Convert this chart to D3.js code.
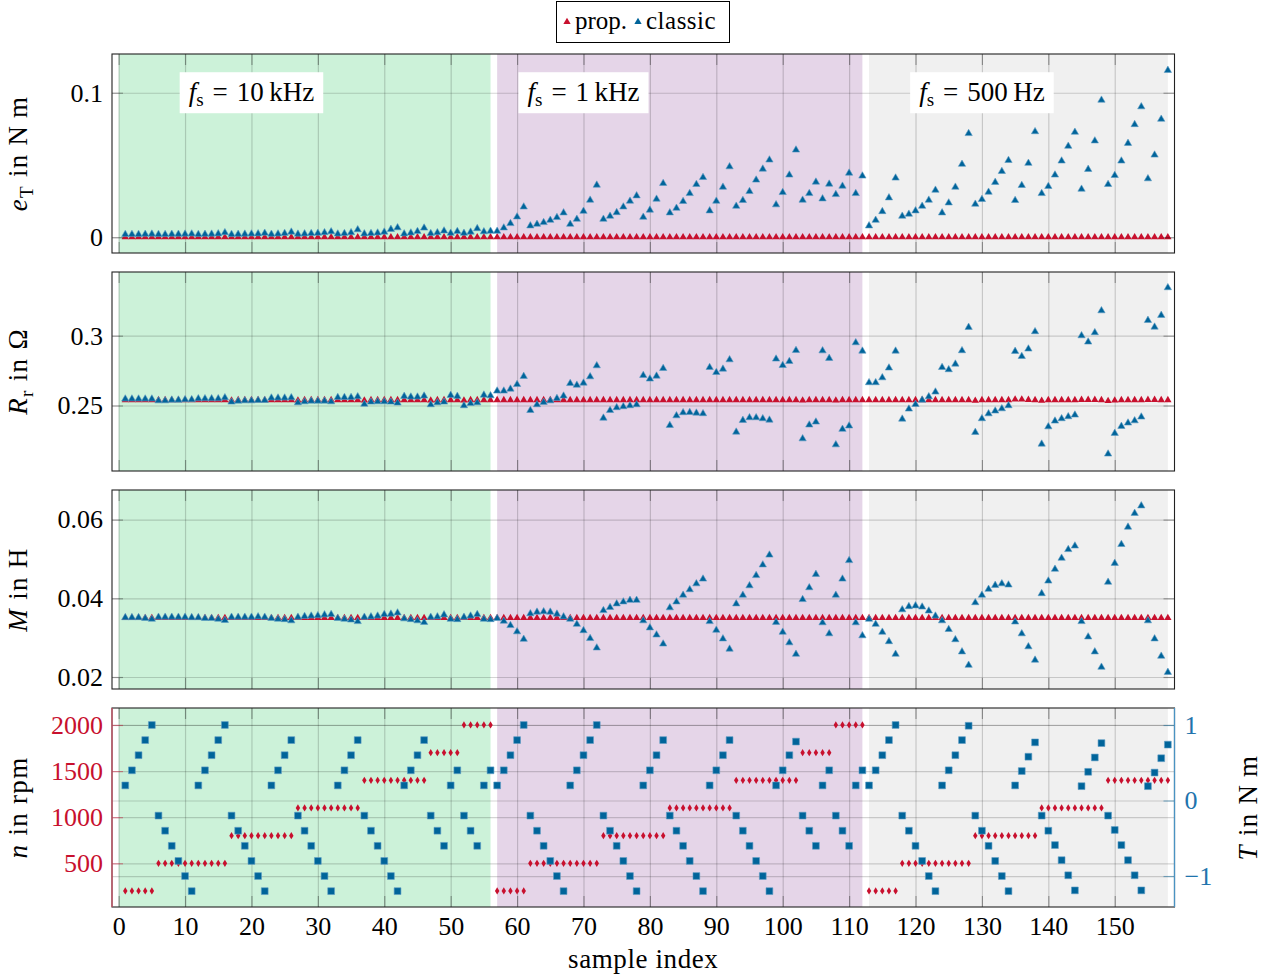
<!DOCTYPE html>
<html>
<head>
<meta charset="utf-8">
<script src="https://cdn.jsdelivr.net/npm/d3@7"></script>
<style>
body { margin: 0; background: #fff; }
text { font-family: "Liberation Serif", "Times New Roman", serif; }
</style>
</head>
<body>
<svg id="chart" width="1273" height="978"></svg>
<script>
// ---- data ----
var sampleIdx = d3.range(1, 159);           // sample index 1..158
var regionBounds = [[0, 56], [57, 112], [113, 158]];
var regionLabels = ["10\u2009kHz", "1\u2009kHz", "500\u2009Hz"];
var regionLabelAt = [20, 70, 130];
var xTicks = [0, 10, 20, 30, 40, 50, 60, 70, 80, 90, 100, 110, 120, 130, 140, 150];

// torque error e_T in N m
var eTProp = [
  0,0,0,0,0, 0,0,0,0,0,0,0,0,0,0,0, 0,0,0,0,0,0,0,0,0,0, 0,0,0,0,0,0,0,0,0,0,
  0,0,0,0,0,0,0,0,0,0, 0,0,0,0,0, 0,0,0,0,0,
  0,0,0,0,0, 0,0,0,0,0,0,0,0,0,0,0, 0,0,0,0,0,0,0,0,0,0, 0,0,0,0,0,0,0,0,0,0,
  0,0,0,0,0,0,0,0,0,0, 0,0,0,0,0, 0,0,0,0,0,
  0,0,0,0,0, 0,0,0,0,0,0,0,0,0,0,0, 0,0,0,0,0,0,0,0,0,0, 0,0,0,0,0,0,0,0,0,0,
  0,0,0,0,0,0,0,0,0,0
];
var eTClassic = [
  0.0020,0.0020,0.0020,0.0021,0.0022,
  0.0020,0.0020,0.0021,0.0021,0.0022,0.0023,0.0020,0.0021,0.0022,0.0024,0.0032,
  0.0020,0.0021,0.0022,0.0023,0.0024,0.0028,0.0021,0.0023,0.0027,0.0036,
  0.0022,0.0024,0.0026,0.0028,0.0032,0.0038,0.0023,0.0026,0.0032,0.0052,
  0.0024,0.0027,0.0030,0.0036,0.0055,0.0066,0.0024,0.0030,0.0040,0.0064,
  0.0026,0.0032,0.0044,0.0028,0.0040,
  0.0028,0.0036,0.0060,0.0038,0.0042,
  0.0042,0.0065,0.0095,0.0141,0.0210,
  0.0079,0.0090,0.0102,0.0118,0.0137,0.0169,0.0090,0.0125,0.0180,0.0257,0.0361,
  0.0125,0.0146,0.0171,0.0210,0.0250,0.0287,0.0139,0.0188,0.0264,0.0373,
  0.0169,0.0201,0.0248,0.0303,0.0366,0.0414,0.0183,0.0250,0.0347,0.0488,
  0.0215,0.0255,0.0317,0.0396,0.0472,0.0535,0.0225,0.0310,0.0431,0.0604,
  0.0257,0.0303,0.0382,0.0266,0.0368,
  0.0296,0.0354,0.0444,0.0303,0.0424,
  0.0079,0.0118,0.0178,0.0273,0.0410,
  0.0146,0.0160,0.0183,0.0215,0.0257,0.0326,0.0169,0.0238,0.0347,0.0505,0.0718,
  0.0229,0.0262,0.0312,0.0380,0.0456,0.0532,0.0255,0.0359,0.0512,0.0731,
  0.0303,0.0352,0.0431,0.0528,0.0630,0.0727,0.0333,0.0470,0.0667,0.0949,
  0.0366,0.0428,0.0528,0.0650,0.0780,0.0903,0.0405,0.0569,0.0817,0.1155
];

// rotor resistance R_r in Ohm
var rrProp = [
  0.2539,0.2539,0.2539,0.2539,0.2539, 0.2539,0.2539,0.2539,0.2539,0.2539,0.2539,0.2539,0.2539,0.2539,0.2539,0.2539,
  0.2537,0.2539,0.2539,0.2539,0.2539,0.2539,0.2539,0.2539,0.2539,0.2539,
  0.2537,0.2539,0.2539,0.2539,0.2539,0.2539,0.2539,0.2539,0.2539,0.2539,
  0.2537,0.2539,0.2539,0.2539,0.2539,0.2539,0.2539,0.2539,0.2539,0.2539,
  0.2537,0.2539,0.2539,0.2539,0.2539, 0.2537,0.2539,0.2539,0.2539,0.2539,
  0.2539,0.2539,0.2539,0.2539,0.2539, 0.2539,0.2539,0.2539,0.2539,0.2539,0.2539,0.2539,0.2539,0.2539,0.2539,0.2539,
  0.2539,0.2539,0.2539,0.2539,0.2539,0.2539,0.2539,0.2539,0.2539,0.2539,
  0.2539,0.2539,0.2539,0.2539,0.2539,0.2539,0.2539,0.2539,0.2539,0.2539,
  0.2539,0.2539,0.2539,0.2539,0.2539,0.2539,0.2539,0.2539,0.2539,0.2539,
  0.2537,0.2539,0.2539,0.2539,0.2539, 0.2537,0.2539,0.2539,0.2539,0.2539,
  0.2539,0.2539,0.2539,0.2539,0.2539, 0.2539,0.2539,0.2539,0.2539,0.2539,0.2539,0.2539,0.2539,0.2539,0.2539,0.2539,
  0.2535,0.2539,0.2539,0.2539,0.2539,0.2539,0.2543,0.2543,0.2541,0.2539,
  0.2535,0.2539,0.2539,0.2539,0.2539,0.2539,0.2541,0.2541,0.2541,0.2539,
  0.2533,0.2537,0.2539,0.2539,0.2539,0.2539,0.2541,0.2541,0.2539,0.2539
];
var rrClassic = [
  0.2547,0.2547,0.2547,0.2547,0.2547,
  0.2534,0.2534,0.2539,0.2539,0.2542,0.2542,0.2549,0.2549,0.2549,0.2549,0.2556,
  0.2525,0.2532,0.2534,0.2534,0.2537,0.2537,0.2554,0.2554,0.2554,0.2556,
  0.2520,0.2527,0.2532,0.2532,0.2532,0.2527,0.2558,0.2558,0.2558,0.2563,
  0.2510,0.2525,0.2527,0.2527,0.2525,0.2518,0.2566,0.2561,0.2561,0.2568,
  0.2506,0.2520,0.2525,0.2573,0.2566,
  0.2499,0.2515,0.2520,0.2575,0.2570,
  0.2604,0.2604,0.2618,0.2651,0.2709,
  0.2465,0.2506,0.2523,0.2534,0.2551,0.2568,0.2658,0.2646,0.2661,0.2706,0.2785,
  0.2410,0.2465,0.2485,0.2492,0.2499,0.2506,0.2716,0.2690,0.2711,0.2766,
  0.2358,0.2427,0.2449,0.2451,0.2446,0.2442,0.2773,0.2737,0.2761,0.2828,
  0.2310,0.2394,0.2413,0.2413,0.2406,0.2396,0.2833,0.2787,0.2816,0.2895,
  0.2262,0.2361,0.2382,0.2892,0.2838,
  0.2219,0.2330,0.2354,0.2950,0.2890,
  0.2664,0.2664,0.2699,0.2769,0.2890,
  0.2403,0.2475,0.2508,0.2539,0.2563,0.2597,0.2773,0.2757,0.2797,0.2893,0.3060,
  0.2308,0.2406,0.2441,0.2461,0.2477,0.2499,0.2888,0.2852,0.2905,0.3029,
  0.2224,0.2348,0.2389,0.2406,0.2420,0.2432,0.3000,0.2955,0.3022,0.3179,
  0.2153,0.2301,0.2351,0.2375,0.2391,0.2418,0.3110,0.3062,0.3146,0.3344
];

// mutual inductance M in H
var mProp = [
  0.0350,0.0350,0.0350,0.0350,0.0350, 0.0350,0.0350,0.0350,0.0350,0.0350,0.0350,0.0350,0.0350,0.0350,0.0350,0.0350,
  0.0350,0.0350,0.0350,0.0350,0.0350,0.0350,0.0350,0.0350,0.0350,0.0350,
  0.0350,0.0350,0.0350,0.0350,0.0350,0.0350,0.0350,0.0350,0.0350,0.0350,
  0.0350,0.0350,0.0350,0.0350,0.0350,0.0350,0.0350,0.0350,0.0350,0.0350,
  0.0350,0.0350,0.0350,0.0350,0.0350, 0.0350,0.0350,0.0350,0.0350,0.0350,
  0.0350,0.0350,0.0350,0.0350,0.0350, 0.0350,0.0350,0.0350,0.0350,0.0350,0.0350,0.0350,0.0350,0.0350,0.0350,0.0350,
  0.0350,0.0350,0.0350,0.0350,0.0350,0.0350,0.0350,0.0350,0.0350,0.0350,
  0.0350,0.0350,0.0350,0.0350,0.0350,0.0350,0.0350,0.0350,0.0350,0.0350,
  0.0350,0.0350,0.0350,0.0350,0.0350,0.0350,0.0350,0.0350,0.0350,0.0350,
  0.0350,0.0350,0.0350,0.0350,0.0350, 0.0350,0.0350,0.0350,0.0350,0.0350,
  0.0350,0.0350,0.0350,0.0350,0.0350, 0.0350,0.0350,0.0350,0.0350,0.0350,0.0350,0.0350,0.0350,0.0350,0.0350,0.0350,
  0.0350,0.0350,0.0350,0.0350,0.0350,0.0350,0.0350,0.0350,0.0350,0.0350,
  0.0350,0.0350,0.0350,0.0350,0.0350,0.0350,0.0350,0.0350,0.0350,0.0350,
  0.0350,0.0350,0.0350,0.0350,0.0350,0.0350,0.0350,0.0350,0.0350,0.0350
];
var mClassic = [
  0.0351,0.0351,0.0351,0.0349,0.0347,
  0.0352,0.0352,0.0352,0.0352,0.0352,0.0351,0.0351,0.0349,0.0349,0.0347,0.0344,
  0.0352,0.0352,0.0352,0.0352,0.0353,0.0352,0.0349,0.0347,0.0346,0.0343,
  0.0352,0.0354,0.0355,0.0356,0.0358,0.0359,0.0349,0.0347,0.0345,0.0341,
  0.0352,0.0353,0.0355,0.0359,0.0360,0.0363,0.0348,0.0346,0.0343,0.0339,
  0.0352,0.0353,0.0358,0.0347,0.0346,
  0.0352,0.0355,0.0359,0.0347,0.0346,
  0.0349,0.0342,0.0331,0.0315,0.0296,
  0.0361,0.0365,0.0366,0.0365,0.0360,0.0353,0.0347,0.0334,0.0318,0.0298,0.0274,
  0.0369,0.0377,0.0386,0.0391,0.0395,0.0395,0.0343,0.0325,0.0307,0.0284,
  0.0376,0.0391,0.0408,0.0422,0.0437,0.0449,0.0341,0.0319,0.0297,0.0271,
  0.0386,0.0408,0.0432,0.0458,0.0485,0.0510,0.0339,0.0314,0.0287,0.0258,
  0.0397,0.0427,0.0461,0.0338,0.0310,
  0.0408,0.0449,0.0496,0.0338,0.0305,
  0.0347,0.0334,0.0314,0.0290,0.0258,
  0.0371,0.0379,0.0381,0.0378,0.0368,0.0355,0.0343,0.0321,0.0295,0.0264,0.0230,
  0.0389,0.0408,0.0423,0.0433,0.0437,0.0434,0.0340,0.0310,0.0277,0.0243,
  0.0412,0.0444,0.0474,0.0502,0.0524,0.0533,0.0341,0.0302,0.0264,0.0225,
  0.0441,0.0489,0.0537,0.0581,0.0616,0.0635,0.0343,0.0297,0.0253,0.0212
];

// operating point: speed n in rpm, torque T in N m
var speed = [
  200,200,200,200,200,
  500,500,500,500,500,500,500,500,500,500,500,
  800,800,800,800,800,800,800,800,800,800,
  1100,1100,1100,1100,1100,1100,1100,1100,1100,1100,
  1400,1400,1400,1400,1400,1400,1400,1400,1400,1400,
  1700,1700,1700,1700,1700,
  2000,2000,2000,2000,2000,
  200,200,200,200,200,
  500,500,500,500,500,500,500,500,500,500,500,
  800,800,800,800,800,800,800,800,800,800,
  1100,1100,1100,1100,1100,1100,1100,1100,1100,1100,
  1400,1400,1400,1400,1400,1400,1400,1400,1400,1400,
  1700,1700,1700,1700,1700,
  2000,2000,2000,2000,2000,
  200,200,200,200,200,
  500,500,500,500,500,500,500,500,500,500,500,
  800,800,800,800,800,800,800,800,800,800,
  1100,1100,1100,1100,1100,1100,1100,1100,1100,1100,
  1400,1400,1400,1400,1400,1400,1400,1400,1400,1400
];
var torque = [
  0.2,0.4,0.6,0.8,1.0,
  -0.2,-0.4,-0.6,-0.8,-1.0,-1.2,0.2,0.4,0.6,0.8,1.0,
  -0.2,-0.4,-0.6,-0.8,-1.0,-1.2,0.2,0.4,0.6,0.8,
  -0.2,-0.4,-0.6,-0.8,-1.0,-1.2,0.2,0.4,0.6,0.8,
  -0.2,-0.4,-0.6,-0.8,-1.0,-1.2,0.2,0.4,0.6,0.8,
  -0.2,-0.4,-0.6,0.2,0.4,
  -0.2,-0.4,-0.6,0.2,0.4,
  0.2,0.4,0.6,0.8,1.0,
  -0.2,-0.4,-0.6,-0.8,-1.0,-1.2,0.2,0.4,0.6,0.8,1.0,
  -0.2,-0.4,-0.6,-0.8,-1.0,-1.2,0.2,0.4,0.6,0.8,
  -0.2,-0.4,-0.6,-0.8,-1.0,-1.2,0.2,0.4,0.6,0.8,
  -0.2,-0.4,-0.6,-0.8,-1.0,-1.2,0.2,0.4,0.6,0.78,
  -0.2,-0.4,-0.6,0.2,0.4,
  -0.2,-0.4,-0.6,0.2,0.4,
  0.2,0.4,0.6,0.8,1.0,
  -0.2,-0.4,-0.6,-0.8,-1.0,-1.2,0.2,0.4,0.6,0.8,0.99,
  -0.2,-0.4,-0.6,-0.8,-1.0,-1.2,0.2,0.39,0.58,0.77,
  -0.2,-0.4,-0.59,-0.79,-0.99,-1.19,0.19,0.38,0.57,0.76,
  -0.2,-0.39,-0.59,-0.79,-0.99,-1.19,0.19,0.37,0.56,0.74
];

// ---- styles / layout ----
var RED = "#c8102e", BLUE = "#00649a", BLUE_TXT = "#1f74ad";
var regionColors = ["#ccf2d9", "#e5d5e8", "#f0f0f0"];
var gridColor = "rgba(0,0,0,0.17)", tickColor = "rgba(0,0,0,0.32)";
var plotLeft = 112, plotRight = 1174.5, panelH = 199, tickLen = 11;
var fontSize = 26;

var svg = d3.select("#chart");
var x = d3.scaleLinear().domain([-1, 159]).range([plotLeft, plotRight]);

var tri = d3.symbol().type(d3.symbolTriangle).size(23);
var sq = d3.symbol().type(d3.symbolSquare).size(46);
var narrowDiamond = {
  draw: function(ctx, size) {
    var h = Math.sqrt(size) * 0.9, w = h * 0.62;
    ctx.moveTo(0, -h); ctx.lineTo(w, 0); ctx.lineTo(0, h); ctx.lineTo(-w, 0); ctx.closePath();
  }
};
var dia = d3.symbol().type(narrowDiamond).size(16);

var panels = [
  { top: 54,  domain: [-0.0109, 0.1268], ticks: [0, 0.1],
    prop: eTProp, classic: eTClassic, label: ["e", "T", " in N\u2009m"] },
  { top: 272, domain: [0.2031, 0.3456], ticks: [0.25, 0.3],
    prop: rrProp, classic: rrClassic, label: ["R", "r", " in \u03a9"] },
  { top: 490, domain: [0.01695, 0.06752], ticks: [0.02, 0.04, 0.06],
    prop: mProp, classic: mClassic, label: ["M", "", " in H"] }
];

function styleAxis(sel) {
  sel.select(".domain").remove();
  sel.selectAll("text").attr("font-family", null).attr("font-size", fontSize);
}

function yLabel(xPos, cy, parts, fill) {
  var t = svg.append("text")
    .attr("transform", "translate(" + xPos + "," + cy + ") rotate(-90)")
    .attr("text-anchor", "middle").attr("font-size", 27)
    .attr("letter-spacing", 1.3).attr("fill", fill || "#000");
  t.append("tspan").attr("font-style", "italic").text(parts[0]);
  if (parts[1]) {
    t.append("tspan").attr("font-size", 19).attr("dy", 6).text(parts[1]);
    t.append("tspan").attr("dy", -6).text(parts[2]);
  } else {
    t.append("tspan").text(parts[2]);
  }
}

function backgroundAndGrid(g, top) {
  regionBounds.forEach(function(b, j) {
    g.append("rect").attr("x", x(b[0])).attr("width", x(b[1]) - x(b[0]))
      .attr("y", top).attr("height", panelH).attr("fill", regionColors[j]);
  });
  g.append("g").attr("transform", "translate(0," + (top + panelH) + ")")
    .call(d3.axisBottom(x).tickValues(xTicks).tickSize(-panelH).tickFormat(""))
    .call(styleAxis)
    .selectAll("line").attr("stroke", gridColor).attr("stroke-width", 1.2);
}

function hGrid(g, y) {
  g.append("g").attr("transform", "translate(" + plotLeft + ",0)")
    .call(d3.axisLeft(y).tickValues(y.ticksList).tickSize(-(plotRight - plotLeft)).tickFormat(""))
    .call(styleAxis)
    .selectAll("line").attr("stroke", gridColor).attr("stroke-width", 1.2);
}

function xTickMarks(g, top) {
  g.append("g").attr("transform", "translate(0," + (top + panelH) + ")")
    .call(d3.axisBottom(x).tickValues(xTicks).tickSize(-tickLen).tickFormat(""))
    .call(styleAxis).selectAll("line").attr("stroke", tickColor).attr("stroke-width", 1.2);
  g.append("g").attr("transform", "translate(0," + top + ")")
    .call(d3.axisTop(x).tickValues(xTicks).tickSize(-tickLen).tickFormat(""))
    .call(styleAxis).selectAll("line").attr("stroke", tickColor).attr("stroke-width", 1.2);
}

function yTickMarks(g, y, side, color) {
  var ax = side === "left" ? d3.axisLeft(y) : d3.axisRight(y);
  g.append("g").attr("transform", "translate(" + (side === "left" ? plotLeft : plotRight) + ",0)")
    .call(ax.tickValues(y.ticksList).tickSize(-tickLen).tickFormat(""))
    .call(styleAxis).selectAll("line").attr("stroke", color || tickColor).attr("stroke-width", 1.2);
}

function drawMarks(g, y, values, sym, fill, stroke) {
  g.append("g").selectAll("path").data(sampleIdx).join("path")
    .attr("transform", function(d) { return "translate(" + x(d) + "," + y(values[d - 1]) + ")"; })
    .attr("d", sym)
    .attr("fill", fill)
    .attr("stroke", stroke || "none")
    .attr("stroke-width", 0.6);
}

// ---- top three panels ----
panels.forEach(function(p, i) {
  var g = svg.append("g");
  var y = d3.scaleLinear().domain(p.domain).range([p.top + panelH, p.top]);
  y.ticksList = p.ticks;
  backgroundAndGrid(g, p.top);
  hGrid(g, y);

  drawMarks(g, y, p.prop, tri, RED);
  drawMarks(g, y, p.classic, tri, BLUE, "#5e9cc4");

  xTickMarks(g, p.top);
  yTickMarks(g, y, "left");
  yTickMarks(g, y, "right");

  g.append("rect").attr("x", plotLeft).attr("y", p.top)
    .attr("width", plotRight - plotLeft).attr("height", panelH)
    .attr("fill", "none").attr("stroke", "#222").attr("stroke-width", 1.1);

  g.append("g").attr("transform", "translate(" + plotLeft + ",0)")
    .call(d3.axisLeft(y).tickValues(p.ticks).tickSize(0).tickPadding(9)
      .tickFormat(function(d) { return String(d); }))
    .call(styleAxis).selectAll("text").attr("fill", "#000");

  yLabel(27, p.top + panelH / 2, p.label);

  if (i === 0) {
    regionLabels.forEach(function(lab, j) {
      var ann = g.append("g");
      var t = ann.append("text").attr("x", x(regionLabelAt[j])).attr("y", y(0.1) + 8)
        .attr("text-anchor", "middle").attr("font-size", 27);
      t.append("tspan").attr("font-style", "italic").text("f");
      t.append("tspan").attr("font-size", 19).attr("dy", 5).text("s");
      t.append("tspan").attr("dy", -5).text("\u2004=\u2004" + lab);
      var bb = t.node().getBBox();
      ann.insert("rect", "text").attr("x", bb.x - 9).attr("y", y(0.1) - 20.5)
        .attr("width", bb.width + 18).attr("height", 41).attr("fill", "#fff");
    });
  }
});

// ---- bottom panel: speed and torque ----
(function() {
  var top = 708;
  var g = svg.append("g");
  var yN = d3.scaleLinear().domain([26, 2184]).range([top + panelH, top]);
  yN.ticksList = [500, 1000, 1500, 2000];
  var yT = d3.scaleLinear().domain([-1.41, 1.225]).range([top + panelH, top]);
  yT.ticksList = [-1, 0, 1];

  backgroundAndGrid(g, top);
  hGrid(g, yN);
  hGrid(g, yT);

  drawMarks(g, yN, speed, dia, RED);
  drawMarks(g, yT, torque, sq, BLUE, "#5e9cc4");

  xTickMarks(g, top);
  yTickMarks(g, yN, "left", "rgba(200,16,46,0.45)");
  yTickMarks(g, yT, "right", "rgba(0,100,154,0.45)");

  g.append("rect").attr("x", plotLeft).attr("y", top)
    .attr("width", plotRight - plotLeft).attr("height", panelH)
    .attr("fill", "none").attr("stroke", "#222").attr("stroke-width", 1.1);
  g.append("line").attr("x1", plotLeft).attr("x2", plotLeft).attr("y1", top).attr("y2", top + panelH)
    .attr("stroke", "#d2596d").attr("stroke-width", 1.3);
  g.append("line").attr("x1", plotRight).attr("x2", plotRight).attr("y1", top).attr("y2", top + panelH)
    .attr("stroke", "#4a93c2").attr("stroke-width", 1.3);

  g.append("g").attr("transform", "translate(" + plotLeft + ",0)")
    .call(d3.axisLeft(yN).tickValues(yN.ticksList).tickSize(0).tickPadding(9)
      .tickFormat(function(d) { return String(d); }))
    .call(styleAxis).selectAll("text").attr("fill", RED);
  g.append("g").attr("transform", "translate(" + plotRight + ",0)")
    .call(d3.axisRight(yT).tickValues(yT.ticksList).tickSize(0).tickPadding(10)
      .tickFormat(function(d) { return d < 0 ? "\u2212" + Math.abs(d) : String(d); }))
    .call(styleAxis).selectAll("text").attr("fill", BLUE_TXT);

  g.append("g").attr("transform", "translate(0," + (top + panelH) + ")")
    .call(d3.axisBottom(x).tickValues(xTicks).tickSize(0).tickPadding(10)
      .tickFormat(function(d) { return String(d); }))
    .call(styleAxis).selectAll("text").attr("fill", "#000");

  yLabel(27, top + panelH / 2, ["n", "", " in rpm"]);
  yLabel(1257, top + panelH / 2, ["T", "", " in N\u2009m"]);

  svg.append("text").attr("x", (plotLeft + plotRight) / 2).attr("y", 968)
    .attr("text-anchor", "middle").attr("font-size", 27).attr("letter-spacing", 0.6)
    .text("sample index");
})();

// ---- legend ----
(function() {
  var lg = svg.append("g");
  lg.append("rect").attr("x", 556.5).attr("y", 1.5).attr("width", 173).attr("height", 41)
    .attr("fill", "#fff").attr("stroke", "#000").attr("stroke-width", 1);
  lg.append("path").attr("transform", "translate(567,22)").attr("d", tri).attr("fill", RED);
  lg.append("text").attr("x", 575).attr("y", 29).attr("font-size", 25).text("prop.");
  lg.append("path").attr("transform", "translate(638,22)").attr("d", tri).attr("fill", BLUE);
  lg.append("text").attr("x", 646).attr("y", 29).attr("font-size", 25).attr("letter-spacing", 0.5).text("classic");
})();
</script>
</body>
</html>
